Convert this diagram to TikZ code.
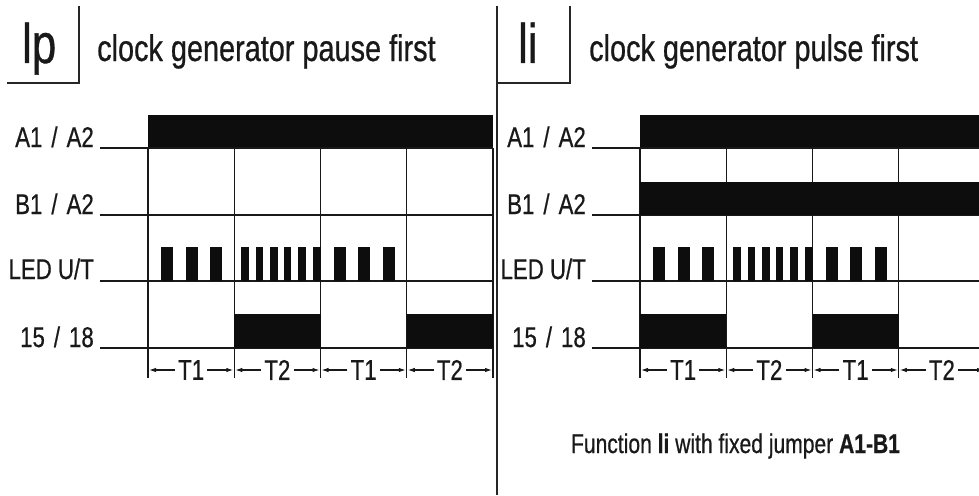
\documentclass[tikz,border=0pt]{standalone}
\usepackage{fontspec}
\setmainfont{Liberation Sans}[FakeStretch=0.78,FakeBold=0.6]
\usetikzlibrary{arrows.meta}
\newcommand\slsep{\hspace{9pt}/\hspace{9pt}}
\begin{document}
\begin{tikzpicture}[x=1pt,y=-1pt,
  sig/.style={line width=1.4pt,black!90},
  boxline/.style={line width=1.2pt,black!85},
  divline/.style={line width=2pt,black!85},
  barfill/.style={fill=black!95},
  lbl/.style={font=\fontsize{28.5}{30}\selectfont,inner sep=0pt,anchor=base east,text=black!90},
  tlbl/.style={font=\fontsize{28.5}{30}\selectfont,inner ysep=0pt,inner xsep=3pt,text=black!90},
  bigl/.style={font=\fontsize{56}{60}\selectfont,inner sep=0pt,anchor=base west,text=black!90},
  ttl/.style={font=\fontsize{37}{40}\selectfont,inner sep=0pt,anchor=base west,text=black!90},
  tarr/.style={line width=1.1pt,black!90,-{Latex[length=7pt,width=4.5pt]}}]
\clip (0,0) rectangle (979,495);
\fill[white] (0,0) rectangle (979,495);

% headers
\draw[boxline] (79,6) -- (79,83) -- (7,83);
\node[bigl] (hp) at (22,63) {lp};
\node[ttl] (tp) at (97,61) {clock generator pause first};
\draw[divline] (497,6) -- (497,495);
\draw[boxline] (570,6) -- (570,83) -- (497,83);
\node[bigl] (hi) at (518,63) {li};
\node[ttl] (ti) at (589,61) {clock generator pulse first};

\foreach \ox in {0,492} {
  % labels
  \node[lbl] (la\ox) at (\ox+94,147) {A1\slsep A2};
  \node[lbl] (lb\ox) at (\ox+94,214) {B1\slsep A2};
  \node[lbl] (ll\ox) at (\ox+94,279) {LED U/T};
  \node[lbl] (lr\ox) at (\ox+94,347) {15\slsep 18};
  % A1 bar
  \fill[barfill] (\ox+148,115) rectangle (\ox+493,148);
  % signal lines
  \foreach \yy in {148,215,281,348}
    \draw[sig] (\ox+100,\yy) -- (\ox+493,\yy);
  % grid
  \foreach \k in {0,...,4}
    \draw[sig] (\ox+148+86.25*\k,148) -- (\ox+148+86.25*\k,378);
  % LED pulses
  \foreach \g in {0,2}
    \foreach \o in {13,37.5,62}
      \fill[barfill] (\ox+148+86.25*\g+\o,247) rectangle +(12,34);
  \foreach \o in {7,21.5,36.2,49.5,64.2,79}
    \fill[barfill] (\ox+148+86.25+\o,247) rectangle +(7.5,34);
  % time arrows
  \foreach \k/\t in {0/T1,1/T2,2/T1,3/T2} {
    \coordinate (gl\ox\k) at (\ox+148+86.25*\k+1,370);
    \coordinate (gr\ox\k) at (\ox+148+86.25*\k+85.25,370);
    \node[tlbl] (t\ox\k) at (\ox+148+86.25*\k+43.1,370) {\t};
    \draw[tarr] (t\ox\k.west) -- (gl\ox\k);
    \draw[tarr] (t\ox\k.east) -- (gr\ox\k);
  }
}
% left panel outputs (pause first)
\fill[barfill] (148+86.25,314) rectangle (148+2*86.25,348);
\fill[barfill] (148+3*86.25,314) rectangle (493,348);
% right panel (pulse first)
\fill[barfill] (640,182) rectangle (985,215);
\fill[barfill] (640,314) rectangle (640+86.25,348);
\fill[barfill] (640+2*86.25,314) rectangle (640+3*86.25,348);
\node[font=\fontsize{27}{30}\selectfont,inner sep=0pt,anchor=base,text=black!90] (note) at (735.5,453)
  {Function \textbf{li} with fixed jumper \textbf{A1-B1}};
\end{tikzpicture}
\end{document}
